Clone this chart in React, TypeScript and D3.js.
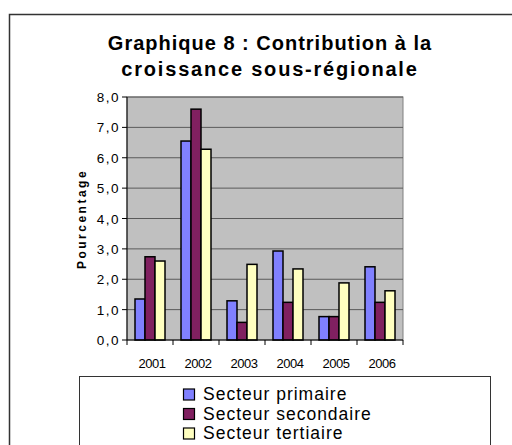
import * as d3 from 'd3';

const years = ['2001', '2002', '2003', '2004', '2005', '2006'];
const primaire = [1.35, 6.55, 1.29, 2.93, 0.77, 2.41];
const secondaire = [2.74, 7.6, 0.58, 1.24, 0.77, 1.24];
const tertiaire = [2.6, 6.28, 2.49, 2.34, 1.88, 1.62];
const seriesNames = ['Secteur primaire', 'Secteur secondaire', 'Secteur tertiaire'];
const seriesColors = ['#8080FF', '#802060', '#FFFFC0'];
const yTicks = [0, 1, 2, 3, 4, 5, 6, 7, 8];

export default function App() {
  const width = 512;
  const height = 445;
  const plot = { left: 127, top: 97, right: 403, bottom: 340 };

  const x = d3.scaleBand<string>().domain(years).range([plot.left, plot.right]).paddingInner(0).paddingOuter(0);
  const barW = 10;
  const y = d3.scaleLinear().domain([0, 8]).range([plot.bottom, plot.top]);
  const allSeries = [primaire, secondaire, tertiaire];
  const fmt = (v: number) => v.toFixed(1).replace('.', ',');

  return (
    <svg width={width} height={height} style={{ position: 'absolute', left: 0, top: 0, background: '#fff' }}
      fontFamily="'Liberation Sans', Arial, sans-serif">
      {/* cadre */}
      <rect x={9.5} y={14.5} width={530} height={460} fill="#fff" stroke="#333" strokeWidth={1.5} />

      {/* titre */}
      <text x={270} y={50} textAnchor="middle" fontSize={20} fontWeight="bold" letterSpacing={1}>
        Graphique 8 : Contribution à la
      </text>
      <text x={270} y={76} textAnchor="middle" fontSize={20} fontWeight="bold" letterSpacing={1.8}>
        croissance sous-régionale
      </text>

      {/* zone de tracé */}
      <rect x={plot.left} y={plot.top} width={plot.right - plot.left} height={plot.bottom - plot.top}
        fill="#C0C0C0" stroke="#808080" strokeWidth={1} />
      {yTicks.filter(t => t > 0).map(t => (
        <line key={t} x1={plot.left} x2={plot.right} y1={y(t)} y2={y(t)} stroke="#5a5a5a" strokeWidth={1} />
      ))}

      {/* barres */}
      {allSeries.map((vals, si) =>
        vals.map((v, i) => {
          const cx = (x(years[i]) ?? 0) + x.bandwidth() / 2;
          const bx = cx - (barW * 3) / 2 + si * barW;
          return (
            <rect key={`${si}-${i}`} x={bx} y={y(v)} width={barW} height={y(0) - y(v)}
              fill={seriesColors[si]} stroke="#000" strokeWidth={1.5} />
          );
        })
      )}

      {/* axes */}
      <line x1={plot.left} x2={plot.left} y1={plot.top} y2={plot.bottom} stroke="#000" strokeWidth={1} />
      <line x1={plot.left} x2={plot.right} y1={plot.bottom} y2={plot.bottom} stroke="#000" strokeWidth={1} />
      {yTicks.map(t => (
        <g key={t}>
          <line x1={plot.left - 5} x2={plot.left} y1={y(t)} y2={y(t)} stroke="#000" />
          <text x={plot.left - 7} y={y(t) + 5} textAnchor="end" fontSize={13.5} letterSpacing={1.5}>{fmt(t)}</text>
        </g>
      ))}
      {[...years.map(d => x(d) ?? 0), plot.right].map((px, i) => (
        <line key={i} x1={px} x2={px} y1={plot.bottom} y2={plot.bottom + 5} stroke="#000" />
      ))}
      {years.map(d => (
        <text key={d} x={(x(d) ?? 0) + x.bandwidth() / 2 + 2} y={368} textAnchor="middle" fontSize={13} letterSpacing={-0.5}>
          {d}
        </text>
      ))}

      {/* titre axe Y */}
      <text transform={`translate(86,219) rotate(-90)`} textAnchor="middle"
        fontSize={12} fontWeight="bold" letterSpacing={2.5}>
        Pourcentage
      </text>

      {/* légende */}
      <rect x={79.5} y={376.5} width={411} height={80} fill="#fff" stroke="#333" strokeWidth={1} />
      {seriesNames.map((name, i) => (
        <g key={name} transform={`translate(183,${400 + i * 19.5})`}>
          <rect x={0.5} y={-11} width={11} height={11} fill={seriesColors[i]} stroke="#000" strokeWidth={1.2} />
          <text x={20} y={0} fontSize={17.5} letterSpacing={1}>{name}</text>
        </g>
      ))}
    </svg>
  );
}
